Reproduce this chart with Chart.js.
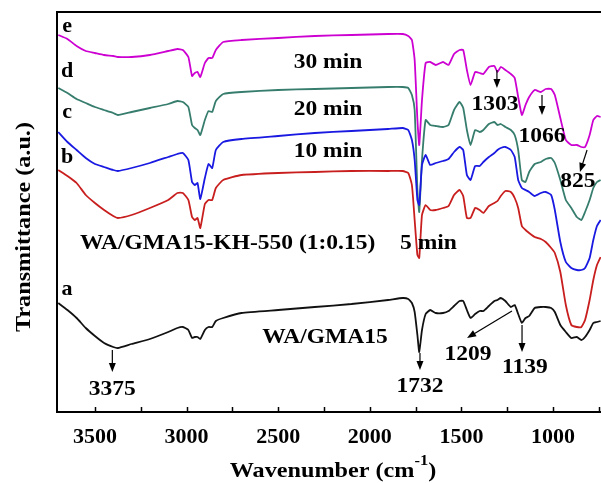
<!DOCTYPE html>
<html>
<head>
<meta charset="utf-8">
<script src="https://cdn.jsdelivr.net/npm/chart.js@4.4.0/dist/chart.umd.min.js"></script>
<style>
  html, body { margin: 0; padding: 0; background: #fff; }
</style>
</head>
<body>
<canvas id="ftir" width="601" height="483"></canvas>
<script>
// wavenumber grid (cm-1), shared by all spectra
const wavenumbers = [3700, 3650, 3600, 3550, 3500, 3450, 3400, 3375, 3300, 3200, 3100, 3050, 3020, 2990,
  2970, 2955, 2940, 2925, 2900, 2880, 2860, 2840, 2800, 2700, 2500, 2300, 2100, 1900, 1820, 1790, 1770,
  1755, 1740, 1730, 1715, 1695, 1670, 1640, 1600, 1570, 1540, 1510, 1490, 1470, 1450, 1425, 1400, 1380,
  1350, 1320, 1303, 1285, 1260, 1230, 1209, 1190, 1170, 1150, 1130, 1100, 1066, 1040, 1010, 990, 960,
  930, 900, 870, 845, 825, 800, 780, 760, 740];

// transmittance, stacked (a.u.)
const specE30 = [377, 373, 366, 361, 359, 357, 356, 355, 355, 357, 361, 363, 362, 355,
  336, 339, 340, 335, 349, 354, 354, 362, 370, 372, 374, 376, 377, 378, 378, 376, 372,
  352, 292, 267, 312, 349, 350, 347, 350, 347, 358, 362, 362, 342, 327, 340, 339, 338,
  345, 346, 340, 345, 342, 338, 334, 315, 297, 307, 315, 322, 320, 323, 323, 317, 294,
  272, 267, 267, 265, 265, 277, 292, 296, 295];
const specD20 = [324, 319, 313, 309, 305, 302, 299, 297, 300, 304, 308, 311, 310, 305,
  287, 284, 282, 277, 292, 301, 300, 311, 318, 320, 322, 323, 324, 325, 325, 324, 317,
  302, 222, 200, 252, 292, 287, 286, 285, 287, 302, 310, 304, 282, 267, 282, 280, 282,
  288, 290, 287, 288, 285, 282, 277, 262, 232, 230, 240, 248, 250, 253, 254, 249, 232,
  212, 204, 195, 192, 200, 212, 224, 230, 232];
const specC10 = [280, 270, 262, 254, 248, 245, 242, 241, 244, 249, 255, 258, 259, 252,
  230, 227, 229, 213, 234, 248, 244, 262, 270, 273, 276, 279, 281, 283, 284, 282, 272,
  252, 212, 207, 247, 257, 247, 249, 251, 253, 260, 265, 262, 237, 232, 246, 246, 250,
  255, 259, 262, 264, 265, 262, 255, 232, 224, 222, 220, 216, 219, 220, 217, 202, 170,
  150, 144, 142, 142, 144, 154, 172, 186, 192];
const specB5 = [242, 236, 229, 217, 209, 202, 196, 194, 197, 204, 212, 219, 219, 212,
  195, 192, 194, 184, 208, 212, 212, 224, 232, 237, 239, 240, 241, 241, 241, 239, 227,
  192, 157, 154, 197, 207, 202, 202, 204, 206, 217, 222, 216, 194, 194, 204, 202, 199,
  206, 209, 211, 216, 221, 220, 214, 204, 186, 182, 179, 175, 173, 170, 164, 159, 140,
  107, 87, 85, 85, 92, 112, 132, 147, 155];
const specA0 = [109, 102, 94, 84, 76, 69, 65, 64, 68, 73, 80, 84, 85, 82,
  74, 75, 75, 73, 82, 85, 85, 91, 94, 99, 102, 105, 108, 112, 114, 113, 109,
  100, 77, 60, 82, 98, 102, 99, 99, 101, 106, 111, 111, 102, 94, 98, 101, 101,
  106, 111, 112, 114, 111, 105, 107, 98, 89, 94, 96, 104, 105, 105, 104, 100, 87,
  80, 74, 75, 72, 75, 82, 89, 90, 91];

const tickLabels = [3500, 3000, 2500, 2000, 1500, 1000];
const tickMarks = [3500, 3250, 3000, 2750, 2500, 2250, 2000, 1750, 1500, 1250, 1000, 750];

// curve letters and text notes: [text, wavenumber, level]
const curveTags = [['e', 3652, 385], ['d', 3652, 340], ['c', 3652, 299], ['b', 3652, 254], ['a', 3652, 122]];
const notes = [
  ['30 min', 2228, 349], ['20 min', 2228, 302], ['10 min', 2228, 260],
  ['WA/GMA15', 2244, 74],
  ['3375', 3405, 22], ['1732', 1726, 25], ['1209', 1464, 57], ['1139', 1153, 44],
  ['1303', 1317, 307], ['1066', 1060, 275], ['825', 864, 230]
];
// arrows: [fromWn, fromLevel, toWn, toLevel]
const arrows = [
  [3405, 62, 3405, 40], [1726, 59, 1726, 42], [1224, 101, 1469, 74], [1169, 87, 1169, 60],
  [1306, 342, 1306, 324], [1060, 317, 1060, 297], [814, 262, 853, 240]
];

const serif = 'Liberation Serif, Times New Roman, serif';
const stretch = 1.12;

const series = [
  { label: 'a', values: specA0, color: '#111111' },
  { label: 'b', values: specB5, color: 'rgb(200,30,30)' },
  { label: 'c', values: specC10, color: 'rgb(25,25,225)' },
  { label: 'd', values: specD20, color: 'rgb(55,125,110)' },
  { label: 'e', values: specE30, color: 'rgb(205,0,210)' }
];

function drawArrow(ctx, x1, y1, x2, y2) {
  const ang = Math.atan2(y2 - y1, x2 - x1);
  const len = 9, half = 3.5;
  ctx.beginPath();
  ctx.moveTo(x1, y1);
  ctx.lineTo(x2 - Math.cos(ang) * len * 0.6, y2 - Math.sin(ang) * len * 0.6);
  ctx.stroke();
  ctx.beginPath();
  ctx.moveTo(x2, y2);
  ctx.lineTo(x2 - Math.cos(ang) * len - Math.sin(ang) * half, y2 - Math.sin(ang) * len + Math.cos(ang) * half);
  ctx.lineTo(x2 - Math.cos(ang) * len + Math.sin(ang) * half, y2 - Math.sin(ang) * len - Math.cos(ang) * half);
  ctx.closePath();
  ctx.fill();
}

// text widened a little, like the scanned figure
function wideText(ctx, t, x, y, align, font, sx) {
  ctx.save();
  ctx.font = font;
  ctx.textAlign = align;
  ctx.textBaseline = 'middle';
  ctx.translate(x, y);
  ctx.scale(sx, 1);
  ctx.fillText(t, 0, 0);
  ctx.restore();
}

const decorations = {
  id: 'decorations',
  afterDatasetsDraw(chart) {
    const { ctx, chartArea, scales: { x, y } } = chart;
    ctx.save();
    ctx.fillStyle = '#000';
    ctx.strokeStyle = '#000';

    // top frame line
    ctx.lineWidth = 2;
    ctx.beginPath();
    ctx.moveTo(chartArea.left - 1, chartArea.top);
    ctx.lineTo(chartArea.right, chartArea.top);
    ctx.stroke();

    // inward tick marks
    ctx.lineWidth = 1.5;
    tickMarks.forEach(v => {
      const px = Math.round(x.getPixelForValue(v)) + 0.5;
      ctx.beginPath();
      ctx.moveTo(px, chartArea.bottom);
      ctx.lineTo(px, chartArea.bottom - 5);
      ctx.stroke();
    });

    const tagFont = 'bold 21px ' + serif;
    curveTags.forEach(([t, wn, lv]) =>
      wideText(ctx, t, x.getPixelForValue(wn), y.getPixelForValue(lv), 'center', tagFont, 1.05));

    const noteFont = 'bold 21px ' + serif;
    notes.forEach(([t, wn, lv]) =>
      wideText(ctx, t, x.getPixelForValue(wn), y.getPixelForValue(lv), 'center', noteFont, stretch));
    wideText(ctx, 'WA/GMA15-KH-550 (1:0.15)', x.getPixelForValue(3581), y.getPixelForValue(168), 'left', noteFont, stretch);
    wideText(ctx, '5 min', x.getPixelForValue(1835), y.getPixelForValue(168), 'left', noteFont, stretch);

    ctx.lineWidth = 1.2;
    arrows.forEach(([w1, l1, w2, l2]) => drawArrow(ctx,
      x.getPixelForValue(w1), y.getPixelForValue(l1), x.getPixelForValue(w2), y.getPixelForValue(l2)));

    // axis titles
    const bigFont = 'bold 22px ' + serif, supFont = 'bold 15px ' + serif;
    const main = 'Wavenumber (cm';
    ctx.font = bigFont;
    const w1 = ctx.measureText(main).width * 1.1;
    const w3 = ctx.measureText(')').width * 1.1;
    ctx.font = supFont;
    const w2 = ctx.measureText('-1').width * 1.1;
    const sx = 333 - (w1 + w2 + w3) / 2;
    wideText(ctx, main, sx, 471, 'left', bigFont, 1.1);
    wideText(ctx, '-1', sx + w1, 461, 'left', supFont, 1.1);
    wideText(ctx, ')', sx + w1 + w2, 471, 'left', bigFont, 1.1);

    ctx.translate(24, 227);
    ctx.rotate(-Math.PI / 2);
    wideText(ctx, 'Transmittance (a.u.)', 0, 0, 'center', bigFont, 1.1);
    ctx.restore();
  }
};

const ctx = document.getElementById('ftir').getContext('2d');
new Chart(ctx, {
  type: 'line',
  data: {
    datasets: series.map(s => ({
      label: s.label,
      data: wavenumbers.map((wn, i) => ({ x: wn, y: s.values[i] })),
      borderColor: s.color,
      borderWidth: 1.8,
      pointRadius: 0,
      tension: 0.15,
      fill: false
    }))
  },
  options: {
    responsive: false,
    animation: false,
    layout: { padding: { top: 12, right: 0, left: 0, bottom: 0 } },
    plugins: { legend: { display: false }, tooltip: { enabled: false } },
    scales: {
      x: {
        type: 'linear',
        reverse: true,
        min: 738,
        max: 3707,
        afterBuildTicks: s => { s.ticks = tickLabels.map(v => ({ value: v })); },
        afterFit: s => { s.height = 71; },
        grid: { display: false, drawTicks: false },
        border: { display: true, color: '#000', width: 2 },
        ticks: {
          color: '#000',
          padding: 12,
          maxRotation: 0,
          callback: v => String(v),
          font: { family: serif, size: 22, weight: 'bold' }
        }
      },
      y: {
        min: 0,
        max: 400,
        afterFit: s => { s.width = 57; },
        grid: { display: false, drawTicks: false },
        border: { display: true, color: '#000', width: 2 },
        ticks: { display: false }
      }
    }
  },
  plugins: [decorations]
});
</script>
</body>
</html>
